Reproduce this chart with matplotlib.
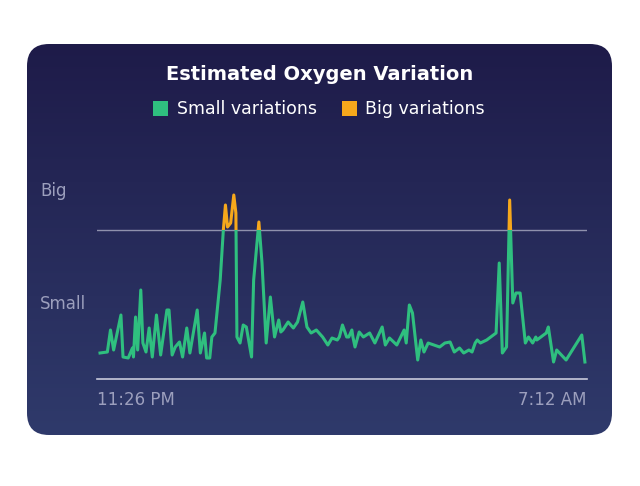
import numpy as np
import matplotlib
matplotlib.use("Agg")
import matplotlib.pyplot as plt
from matplotlib.patches import FancyBboxPatch, Rectangle

# time in minutes after 11:26 PM, variation level (arbitrary units; Big threshold = 149)
minutes = [0, 7, 10, 13, 20, 22, 27, 31, 32, 34, 36, 39, 41, 44, 47, 50, 54, 58, 64, 66, 69, 72, 76, 79, 83,
           86, 93, 96, 100, 102, 105, 107, 110, 115, 118, 120, 122, 125, 128, 130, 131, 134, 137, 140, 145,
           147, 152, 155, 159, 163, 167, 171, 173, 175, 180, 185, 189, 194, 198, 202, 207, 213, 218, 222,
           227, 232, 238, 242, 229, 232, 236, 241, 244, 248, 252, 258, 263, 270, 273, 277, 284, 291, 293,
           296, 299, 304, 307, 310, 314, 325, 330, 335, 339, 344, 348, 353, 356, 359, 361, 364, 370, 379,
           382, 385, 389, 392, 395, 398, 402, 407, 410, 414, 417, 418, 427, 429, 434, 437, 446, 461, 464]
levels = [26, 27, 49, 29, 64, 22, 21, 31, 22, 62, 29, 89, 36, 27, 51, 22, 64, 24, 69, 69, 24, 32, 37, 22, 51,
          26, 69, 26, 46, 21, 21, 42, 46, 99, 149, 174, 152, 156, 184, 166, 42, 36, 54, 52, 22, 99, 157,
          116, 36, 82, 42, 59, 47, 49, 57, 51, 57, 77, 52, 46, 49, 42, 34, 41, 39, 54, 42, 42, 42, 54,
          42, 49, 32, 47, 42, 46, 36, 52, 34, 41, 34, 49, 36, 74, 66, 19, 39, 27, 36, 32, 36, 37, 27, 31,
          26, 29, 27, 36, 39, 36, 39, 46, 116, 26, 32, 179, 76, 86, 86, 36, 42, 36, 42, 39, 46, 52, 17,
          29, 19, 44, 17, 17, 32, 24]
# sort by time (some samples read out of order)
order = np.argsort(minutes, kind="stable")
minutes = list(np.array(minutes)[order])
levels = list(np.array(levels)[order])

big_threshold = 149
big_label_level = 188
small_label_level = 75
tick_labels = ["11:26 PM", "7:12 AM"]
title = "Estimated Oxygen Variation"
legend_labels = ["Small variations", "Big variations"]

GREEN = "#2fbf7f"
ORANGE = "#f6a81c"
GREY = "#9c9fbd"

fig = plt.figure(figsize=(6.4, 4.86), dpi=100)
fig.patch.set_facecolor("white")

# card background with gradient
bg = fig.add_axes([0, 0, 1, 1])
bg.set_xlim(0, 640); bg.set_ylim(486, 0); bg.axis("off")
card = FancyBboxPatch((27, 44), 585, 391, boxstyle="round,pad=0,rounding_size=22",
                      facecolor="none", edgecolor="none")
bg.add_patch(card)
grad = np.linspace(0, 1, 256).reshape(-1, 1)
from matplotlib.colors import LinearSegmentedColormap
cmap = LinearSegmentedColormap.from_list("g", ["#1e1b49", "#2f3a6b"])
im = bg.imshow(grad, extent=[27, 612, 435, 44], cmap=cmap, aspect="auto", zorder=0)
im.set_clip_path(card)

bg.text(320, 74, title, color="white", fontsize=14, fontweight="bold", ha="center", va="center")
bg.add_patch(Rectangle((153, 101), 15, 15, facecolor=GREEN, edgecolor="none"))
bg.text(177, 109, legend_labels[0], color="white", fontsize=12.5, va="center")
bg.add_patch(Rectangle((342, 101), 15, 15, facecolor=ORANGE, edgecolor="none"))
bg.text(365, 109, legend_labels[1], color="white", fontsize=12.5, va="center")

ax = fig.add_axes([97/640, (486-379)/486, 490/640, 199/486])
ax.patch.set_alpha(0)
ax.set_xlim(-2.9, 466)
ax.set_ylim(0, 199)
for s in ax.spines.values():
    s.set_visible(False)
ax.set_xticks([]); ax.set_yticks([])
ax.axhline(0, color="#c9cadb", lw=1.2, clip_on=False)
ax.axhline(big_threshold, color="#8f91ad", lw=1)

lg, = ax.plot(minutes, levels, color=GREEN, lw=2.2, solid_joinstyle="round")
lo, = ax.plot(minutes, levels, color=ORANGE, lw=2.2, solid_joinstyle="round")
lg.set_clip_path(Rectangle((-10, -10), 500, big_threshold + 10, transform=ax.transData))
lo.set_clip_path(Rectangle((-10, big_threshold), 500, 100, transform=ax.transData))

ax.text(-60 / 490 * 469 + 0, big_label_level, "Big", color=GREY, fontsize=12, va="center", ha="left",
        transform=ax.transData)
ax.text(-60 / 490 * 469, small_label_level, "Small", color=GREY, fontsize=12, va="center", ha="left")
ax.text(-2.9, -21, tick_labels[0], color=GREY, fontsize=12, va="center", ha="left")
ax.text(466, -21, tick_labels[1], color=GREY, fontsize=12, va="center", ha="right")

fig.savefig("out.png", dpi=100, facecolor="white")
